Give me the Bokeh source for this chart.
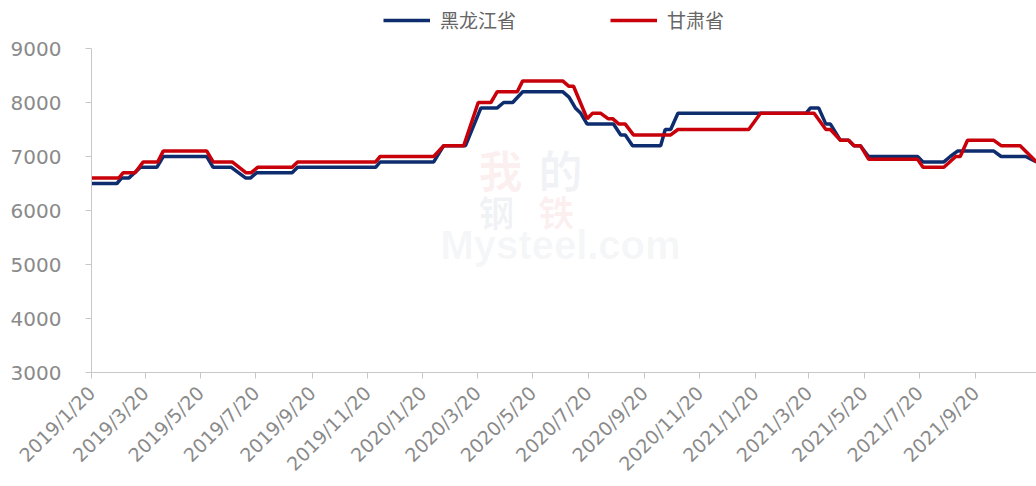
import calendar
from datetime import datetime
from math import pi

from bokeh.plotting import figure
from bokeh.models import Range1d, FixedTicker, Legend, LegendItem, Label, ColumnDataSource
from bokeh.embed import file_html
from bokeh.resources import INLINE

# ---------------- data ----------------
hlj_dates = ["2019-01-20", "2019-02-17", "2019-02-22", "2019-03-02", "2019-03-15", "2019-04-02",
             "2019-04-09", "2019-05-27", "2019-06-03", "2019-06-23", "2019-07-09", "2019-07-14",
             "2019-07-21", "2019-08-29", "2019-09-04", "2019-11-29", "2019-12-04", "2020-02-01",
             "2020-02-12", "2020-03-07", "2020-03-24", "2020-04-11", "2020-04-18", "2020-04-28",
             "2020-05-09", "2020-06-22", "2020-06-29", "2020-07-06", "2020-07-12", "2020-07-19",
             "2020-08-17", "2020-08-25", "2020-08-30", "2020-09-07", "2020-10-08", "2020-10-13",
             "2020-10-19", "2020-10-27", "2021-03-17", "2021-03-22", "2021-03-31", "2021-04-08",
             "2021-04-13", "2021-04-24", "2021-05-03", "2021-05-09", "2021-05-16", "2021-05-25",
             "2021-07-18", "2021-07-24", "2021-08-16", "2021-08-23", "2021-08-31", "2021-10-10",
             "2021-10-18", "2021-11-14", "2021-11-26"]
hlj_vals = [6500, 6500, 6600, 6600, 6800, 6800,
            7000, 7000, 6800, 6800, 6600, 6600,
            6700, 6700, 6800, 6800, 6900, 6900,
            7200, 7200, 7900, 7900, 8000, 8000,
            8200, 8200, 8100, 7900, 7800, 7600,
            7600, 7400, 7400, 7200, 7200, 7500,
            7500, 7800, 7800, 7900, 7900, 7600,
            7600, 7300, 7300, 7200, 7200, 7000,
            7000, 6900, 6900, 7000, 7100, 7100,
            7000, 7000, 6900]

gs_dates = ["2019-01-20", "2019-02-19", "2019-02-24", "2019-03-09", "2019-03-18", "2019-04-03",
            "2019-04-09", "2019-05-27", "2019-06-03", "2019-06-24", "2019-07-09", "2019-07-15",
            "2019-07-22", "2019-08-29", "2019-09-04", "2019-11-29", "2019-12-04", "2020-02-01",
            "2020-02-12", "2020-03-05", "2020-03-21", "2020-04-04", "2020-04-11", "2020-05-03",
            "2020-05-09", "2020-06-22", "2020-06-29", "2020-07-04", "2020-07-19", "2020-07-25",
            "2020-08-03", "2020-08-11", "2020-08-16", "2020-08-23", "2020-08-30", "2020-09-08",
            "2020-10-19", "2020-10-27", "2021-01-13", "2021-01-26", "2021-03-26", "2021-04-08",
            "2021-04-13", "2021-04-24", "2021-05-03", "2021-05-09", "2021-05-16", "2021-05-25",
            "2021-07-18", "2021-07-24", "2021-08-16", "2021-08-29", "2021-09-03", "2021-09-11",
            "2021-10-10", "2021-10-18", "2021-11-08", "2021-11-26"]
gs_vals = [6600, 6600, 6700, 6700, 6900, 6900,
           7100, 7100, 6900, 6900, 6700, 6700,
           6800, 6800, 6900, 6900, 7000, 7000,
           7200, 7200, 8000, 8000, 8200, 8200,
           8400, 8400, 8300, 8300, 7700, 7800,
           7800, 7700, 7700, 7600, 7600, 7400,
           7400, 7500, 7500, 7800, 7800, 7500,
           7500, 7300, 7300, 7200, 7200, 6950,
           6950, 6800, 6800, 7000, 7000, 7300,
           7300, 7200, 7200, 6900]

series_names = ["黑龙江省", "甘肃省"]
tick_labels = ["2019/1/20", "2019/3/20", "2019/5/20", "2019/7/20", "2019/9/20", "2019/11/20",
               "2020/1/20", "2020/3/20", "2020/5/20", "2020/7/20", "2020/9/20", "2020/11/20",
               "2021/1/20", "2021/3/20", "2021/5/20", "2021/7/20", "2021/9/20"]
y_ticks = [3000, 4000, 5000, 6000, 7000, 8000, 9000]
y_min, y_max = 3000, 9000
x_start, x_end = "2019-01-20", "2021-11-26"


def to_ms(dt):
    return calendar.timegm(dt.timetuple()) * 1000.0


def iso_ms(s):
    return to_ms(datetime.strptime(s, "%Y-%m-%d"))


tick_ms = [to_ms(datetime.strptime(t, "%Y/%m/%d")) for t in tick_labels]

NAVY = "#0e2d6e"
RED = "#c8000a"
GREY = "#8a8a8a"

# frame: top at 2px, bottom at 372px, 9000 at 48px -> headroom holds the legend
H = 486
FRAME_TOP, FRAME_BOTTOM, Y9000 = 2, 372, 48
head = (y_max - y_min) * (Y9000 - FRAME_TOP) / (FRAME_BOTTOM - Y9000)

p = figure(width=1036, height=H, x_axis_type="datetime",
           output_backend="svg", toolbar_location=None,
           x_range=Range1d(iso_ms(x_start), iso_ms(x_end)),
           y_range=Range1d(y_min, y_max + head),
           min_border_left=91, min_border_right=0, min_border_top=FRAME_TOP,
           min_border_bottom=H - FRAME_BOTTOM)
p.outline_line_color = None
p.background_fill_color = "white"
p.border_fill_color = "white"
p.xgrid.visible = False
p.ygrid.visible = False

# watermark (very faint)
wm = [("我", 478, 200, "#c00000", 44), ("的", 538, 200, "#1f3a78", 44),
      ("钢", 478, 236, "#1f3a78", 36), ("铁", 538, 236, "#c00000", 36)]
for t, sx, sy, c, fs in wm:
    p.add_layout(Label(x=sx - 91, y=FRAME_BOTTOM - sy, x_units="screen", y_units="screen", text=t,
                       text_color=c, text_alpha=0.06, text_font_size=f"{fs}px",
                       text_font="Noto Sans CJK SC", text_font_style="bold"))
p.add_layout(Label(x=440 - 91, y=FRAME_BOTTOM - 266, x_units="screen", y_units="screen",
                   text="Mysteel.com", text_color="#9aa0aa", text_alpha=0.09,
                   text_font_size="40px", text_font="Liberation Sans", text_font_style="bold"))

src1 = ColumnDataSource(dict(x=[iso_ms(d) for d in hlj_dates], y=hlj_vals))
src2 = ColumnDataSource(dict(x=[iso_ms(d) for d in gs_dates], y=gs_vals))
r1 = p.line("x", "y", source=src1, line_color=NAVY, line_width=3.5)
r2 = p.line("x", "y", source=src2, line_color=RED, line_width=3.5)

# axes
p.xaxis.ticker = FixedTicker(ticks=tick_ms)
p.xaxis.major_label_overrides = {t: l for t, l in zip(tick_ms, tick_labels)}
p.xaxis.major_label_orientation = pi / 4
p.xaxis.major_label_text_font = "DejaVu Sans"
p.xaxis.major_label_text_font_size = "19px"
p.xaxis.major_label_text_color = GREY
p.xaxis.major_label_standoff = 11
p.xaxis.axis_line_color = "#c8c8c8"
p.xaxis.major_tick_line_color = "#c8c8c8"
p.xaxis.major_tick_out = 6
p.xaxis.major_tick_in = 0
p.xaxis.minor_tick_line_color = None

p.yaxis.ticker = FixedTicker(ticks=y_ticks)
p.yaxis.bounds = (y_min, y_max)
p.yaxis.major_label_text_font = "DejaVu Sans"
p.yaxis.major_label_text_font_size = "20px"
p.yaxis.major_label_text_color = GREY
p.yaxis.major_label_standoff = 24
p.yaxis.axis_line_color = "#c8c8c8"
p.yaxis.major_tick_line_color = "#c8c8c8"
p.yaxis.major_tick_out = 6
p.yaxis.major_tick_in = 0
p.yaxis.minor_tick_line_color = None

legend = Legend(items=[LegendItem(label=series_names[0], renderers=[r1]),
                       LegendItem(label=series_names[1], renderers=[r2])],
                orientation="horizontal", location=(292, 339),
                glyph_width=47, glyph_height=18, label_standoff=10, spacing=94,
                padding=0, margin=0, border_line_alpha=0, background_fill_alpha=0,
                label_text_font="Noto Sans CJK SC", label_text_font_size="19px",
                label_text_color="#666666")
p.add_layout(legend, "center")

open("out.html", "w").write(file_html(p, INLINE))
